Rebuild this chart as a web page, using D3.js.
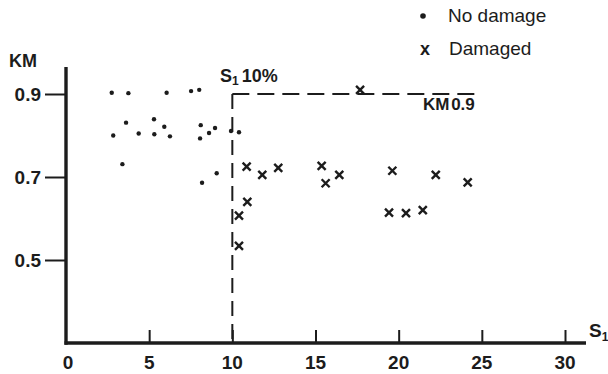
<!DOCTYPE html>
<html>
<head>
<meta charset="utf-8">
<script src="https://cdn.jsdelivr.net/npm/d3@7"></script>
<style>
  html, body { margin: 0; padding: 0; background: #fff; }
  svg { display: block; font-family: "Liberation Sans", Arial, Helvetica, sans-serif; }
</style>
</head>
<body>
<svg id="chart" width="608" height="374"></svg>
<script>
// S1 (%) and KM readings, split by outcome
const noDamageS1 = [2.75, 3.75, 6.05, 7.52, 8.01, 3.61, 5.29, 5.91, 2.84, 4.37, 5.31, 6.25, 8.10, 8.06, 8.60, 8.96, 9.92, 10.40, 3.39, 8.18, 9.06];
const noDamageKM = [0.903, 0.902, 0.903, 0.907, 0.910, 0.831, 0.839, 0.821, 0.800, 0.805, 0.803, 0.798, 0.825, 0.793, 0.806, 0.818, 0.811, 0.808, 0.731, 0.686, 0.709];

const damagedS1 = [17.68, 10.86, 11.80, 12.76, 15.37, 15.61, 16.43, 19.62, 22.23, 24.15, 10.90, 10.40, 10.40, 19.42, 20.44, 21.45];
const damagedKM = [0.910, 0.725, 0.705, 0.722, 0.727, 0.685, 0.705, 0.715, 0.705, 0.687, 0.640, 0.607, 0.534, 0.614, 0.613, 0.620];

// Axis ticks
const xTicks = [0, 5, 10, 15, 20, 25, 30];
const yTicks = [0.5, 0.7, 0.9];

// Threshold lines: S1 = 10 % and KM = 0.9
const s1Limit = 10;
const kmLimit = 0.9;
const kmLineEnd = 24.6;

const svg = d3.select("#chart");
const ink = "#1c1c1c";

const x = d3.scaleLinear().domain([0, 30]).range([66, 565]);
const y = d3.scaleLinear().domain([0.3, 0.9]).range([343, 94]);
const xEnd = 586;
const yTop = 0.965;

// Threshold dashed lines
svg.append("line")
  .attr("x1", x(s1Limit)).attr("x2", x(s1Limit))
  .attr("y1", y(kmLimit)).attr("y2", y(0.3))
  .attr("stroke", ink).attr("stroke-width", 2)
  .attr("stroke-dasharray", "15,8");
svg.append("line")
  .attr("x1", x(s1Limit)).attr("x2", x(kmLineEnd))
  .attr("y1", y(kmLimit)).attr("y2", y(kmLimit))
  .attr("stroke", ink).attr("stroke-width", 2)
  .attr("stroke-dasharray", "17,8");

// X axis
const xAxis = d3.axisTop(x).tickValues(xTicks.slice(1)).tickSize(13).tickFormat("");
const gx = svg.append("g").attr("transform", `translate(0,${y(0.3)})`).call(xAxis);
gx.select(".domain").remove();
gx.selectAll(".tick line").attr("stroke", ink).attr("stroke-width", 2);
svg.append("line")
  .attr("x1", x(0) - 1.5).attr("x2", xEnd)
  .attr("y1", y(0.3)).attr("y2", y(0.3))
  .attr("stroke", ink).attr("stroke-width", 3.4);
svg.append("g").selectAll("text").data(xTicks).join("text")
  .attr("x", d => x(d) + (d === 0 ? 2 : 0))
  .attr("y", 369)
  .attr("text-anchor", "middle")
  .attr("font-size", 19).attr("font-weight", "bold").attr("fill", ink)
  .text(d => d);

// Y axis
const yAxis = d3.axisLeft(y).tickValues(yTicks).tickSize(21).tickFormat("");
const gy = svg.append("g").attr("transform", `translate(${x(0)},0)`).call(yAxis);
gy.select(".domain").remove();
gy.selectAll(".tick line").attr("stroke", ink).attr("stroke-width", 2);
svg.append("line")
  .attr("x1", x(0)).attr("x2", x(0))
  .attr("y1", y(yTop)).attr("y2", y(0.3) + 1.7)
  .attr("stroke", ink).attr("stroke-width", 3.4);
svg.append("g").selectAll("text").data(yTicks).join("text")
  .attr("x", 41)
  .attr("y", d => y(d))
  .attr("dy", "0.36em")
  .attr("text-anchor", "end")
  .attr("font-size", 19).attr("font-weight", "bold").attr("fill", ink)
  .text(d => d.toFixed(1));

// Axis titles
svg.append("text").attr("x", 9).attr("y", 67)
  .attr("font-size", 18).attr("font-weight", "bold").attr("fill", ink)
  .text("KM");
const s1Title = svg.append("text").attr("x", 589).attr("y", 337)
  .attr("font-size", 19).attr("font-weight", "bold").attr("fill", ink);
s1Title.append("tspan").text("S");
s1Title.append("tspan").attr("font-size", 12).attr("dy", 4).text("1");

// Threshold labels
const s1Label = svg.append("text").attr("x", 220).attr("y", 82)
  .attr("font-size", 18).attr("font-weight", "bold").attr("fill", ink);
s1Label.append("tspan").text("S");
s1Label.append("tspan").attr("font-size", 12).attr("dy", 3).text("1");
s1Label.append("tspan").attr("dy", -3).attr("dx", 3).text("10%");
svg.append("text").attr("x", 423).attr("y", 110)
  .attr("font-size", 17).attr("font-weight", "bold").attr("fill", ink)
  .attr("word-spacing", -3)
  .text("KM 0.9");

// No-damage points
svg.append("g").selectAll("circle").data(d3.range(noDamageS1.length)).join("circle")
  .attr("cx", i => x(noDamageS1[i]))
  .attr("cy", i => y(noDamageKM[i]))
  .attr("r", 2.2)
  .attr("fill", ink);

// Damaged points
const h = 4;
svg.append("g").selectAll("path").data(d3.range(damagedS1.length)).join("path")
  .attr("transform", i => `translate(${x(damagedS1[i])},${y(damagedKM[i])})`)
  .attr("d", `M${-h},${-h}L${h},${h}M${-h},${h}L${h},${-h}`)
  .attr("stroke", ink).attr("stroke-width", 2.4).attr("fill", "none");

// Legend
svg.append("circle").attr("cx", 423).attr("cy", 16).attr("r", 2.8).attr("fill", ink);
svg.append("text").attr("x", 448).attr("y", 22)
  .attr("font-size", 19).attr("fill", ink).text("No damage");
svg.append("text").attr("x", 420).attr("y", 55)
  .attr("font-size", 18).attr("font-weight", "bold").attr("fill", ink).text("x");
svg.append("text").attr("x", 449).attr("y", 55)
  .attr("font-size", 19).attr("fill", ink).text("Damaged");
</script>
</body>
</html>
